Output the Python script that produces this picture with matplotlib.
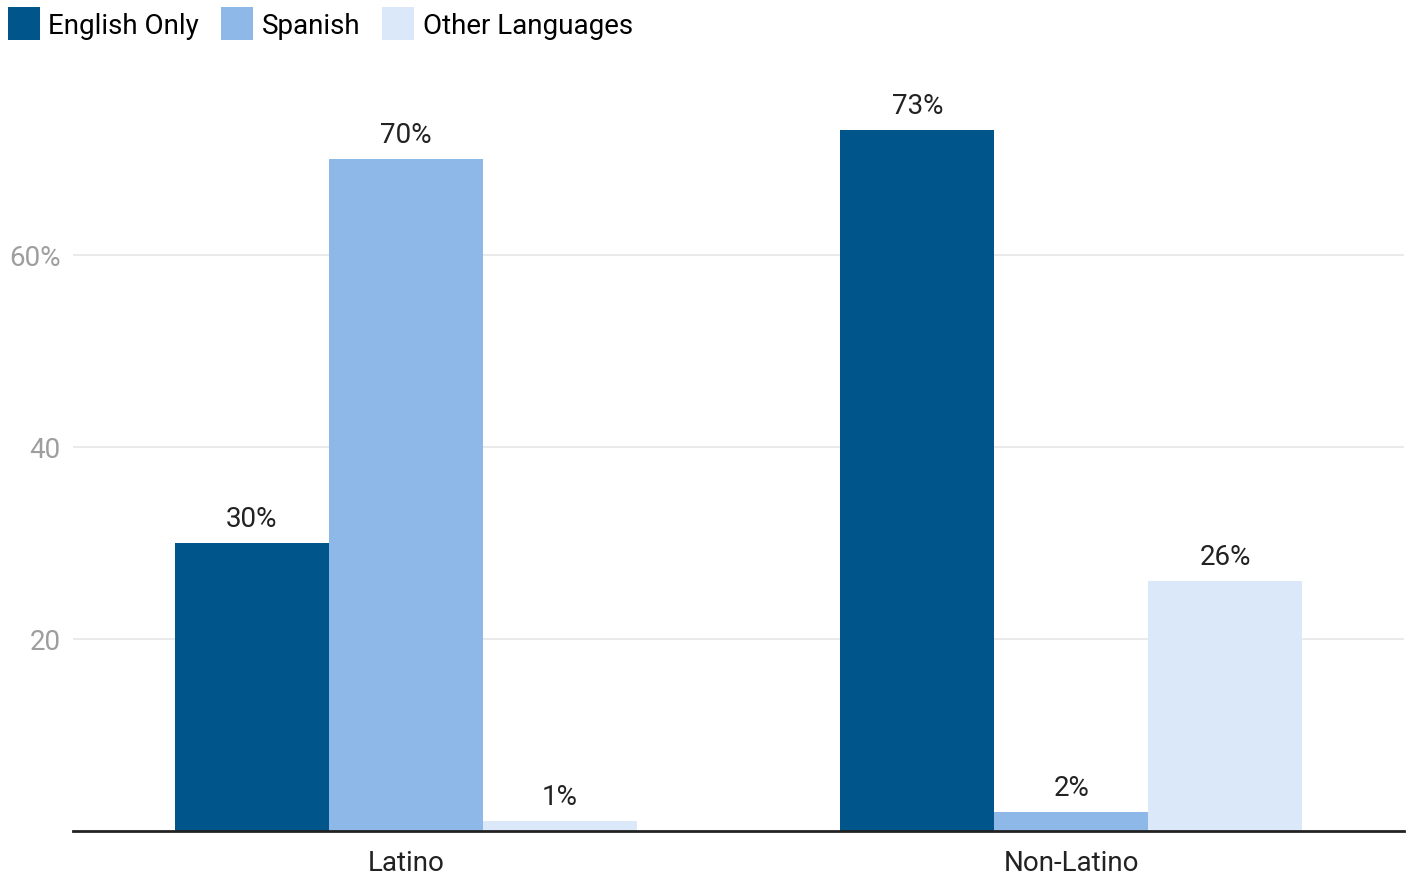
import numpy as np
import matplotlib.pyplot as plt

plt.rcParams['font.family'] = ['Roboto', 'DejaVu Sans']

groups = ["Latino", "Non-Latino"]
series = ["English Only", "Spanish", "Other Languages"]
english_only = [30, 73]
spanish = [70, 2]
other_languages = [1, 26]
colors = ["#00568A", "#8DB8E8", "#DAE8FA"]

fig = plt.figure(figsize=(14.09, 8.78), dpi=100)
ax = fig.add_axes([73 / 1409, 1 - 832 / 878, (1404 - 73) / 1409, 768 / 878])

x = np.arange(len(groups))
w = 0.2314
for i, (vals, col, name) in enumerate(zip([english_only, spanish, other_languages], colors, series)):
    pos = x + (i - 1) * w
    ax.bar(pos, vals, width=w, color=col, label=name, zorder=2)
    for xp, v in zip(pos, vals):
        ax.annotate(f"{v}%", (xp, v), xytext=(0, 8), textcoords="offset points",
                    ha="center", va="bottom", fontsize=20, color="#222222")

ax.set_xlim(-0.5, 1.5)
ax.set_ylim(0, 80)
ax.set_yticks([20, 40, 60])
ax.set_yticklabels(["20", "40", "60%"])
ax.set_xticks(x)
ax.set_xticklabels(groups)
ax.grid(axis="y", color="#e6e6e6", linewidth=1.2, zorder=0)
for s in ["top", "right", "left"]:
    ax.spines[s].set_visible(False)
ax.spines["bottom"].set_color("#222222")
ax.spines["bottom"].set_linewidth(2)
ax.spines["bottom"].set_zorder(3)
ax.tick_params(axis="y", length=0, labelsize=20, labelcolor="#9e9e9e", pad=9)
ax.tick_params(axis="x", length=0, labelsize=20, labelcolor="#222222", pad=13)

fig.legend(loc="upper left", bbox_to_anchor=(8 / 1409, 1 - 8 / 878), ncol=3, frameon=False,
           fontsize=20, handlelength=1.15, handleheight=1.45, handletextpad=0.3,
           columnspacing=0.8, borderaxespad=0, borderpad=0)

fig.savefig("out.png", dpi=100)
